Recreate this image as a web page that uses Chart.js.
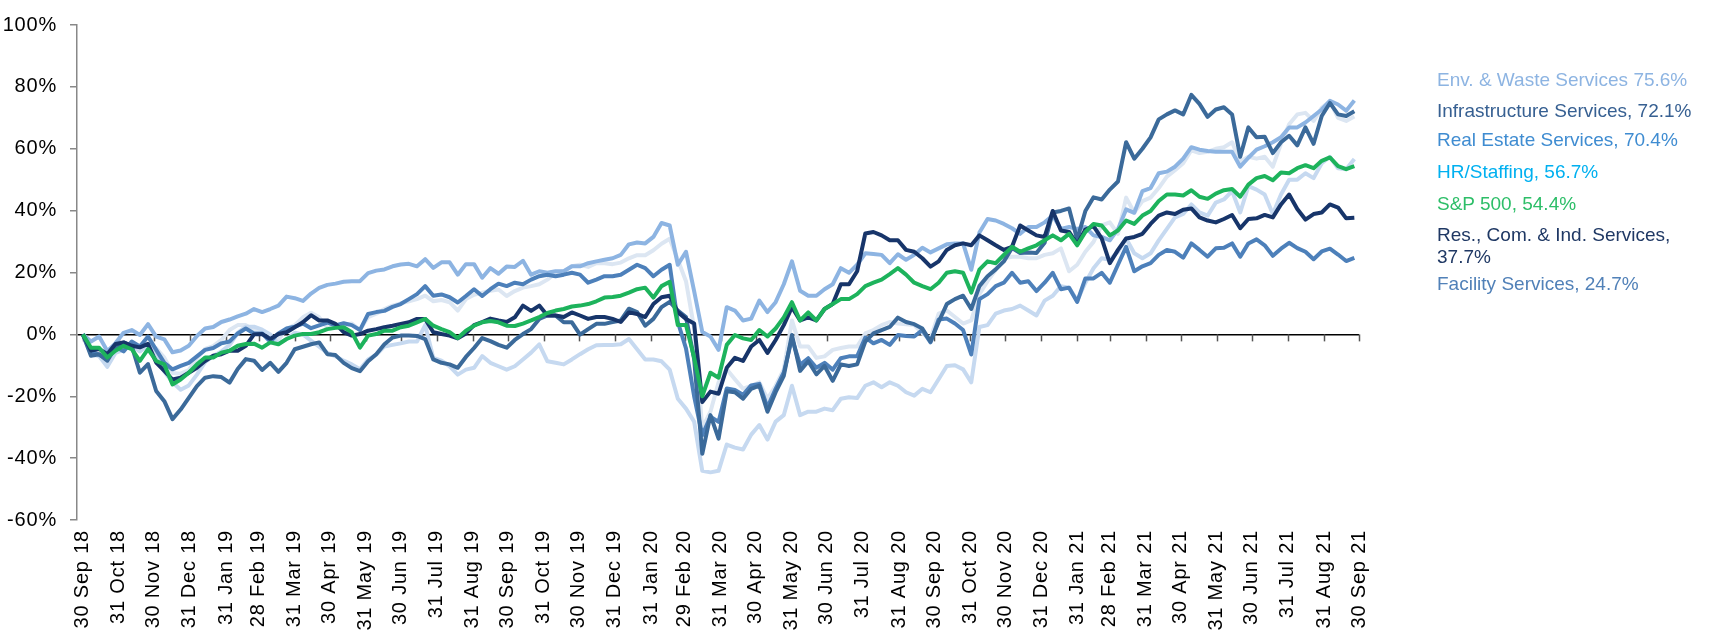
<!DOCTYPE html>
<html>
<head>
<meta charset="utf-8">
<script src="https://cdn.jsdelivr.net/npm/chart.js@4.4.1/dist/chart.umd.min.js"></script>
<style>
  body { margin: 0; background: #fff; font-family: "Liberation Sans", Arial, sans-serif; }
  #wrap { position: relative; width: 1727px; height: 634px; }
  canvas { display: block; }
  .lg { position: absolute; left: 1437px; font-size: 19px; line-height: 22px; white-space: nowrap; }
</style>
</head>
<body>
<div id="wrap">
  <canvas id="perfChart" width="1727" height="634"></canvas>
</div>
<script>
// month-end tick labels
const monthLabels = ['30 Sep 18','31 Oct 18','30 Nov 18','31 Dec 18','31 Jan 19','28 Feb 19','31 Mar 19','30 Apr 19','31 May 19','30 Jun 19','31 Jul 19','31 Aug 19','30 Sep 19','31 Oct 19','30 Nov 19','31 Dec 19','31 Jan 20','29 Feb 20','31 Mar 20','30 Apr 20','31 May 20','30 Jun 20','31 Jul 20','31 Aug 20','30 Sep 20','31 Oct 20','30 Nov 20','31 Dec 20','31 Jan 21','28 Feb 21','31 Mar 21','30 Apr 21','31 May 21','30 Jun 21','31 Jul 21','31 Aug 21','30 Sep 21'];

// weekly cumulative returns (%), first point 30 Sep 18
const envWaste = [0,-2.3,-0.7,-5.4,-2.9,0.5,1.4,-0.2,3.3,-0.7,
  -1.6,-5.8,-5.2,-3.7,-0.5,1.9,2.4,4.0,4.8,5.8,
  6.7,8.2,7.2,8.2,9.3,12.2,11.7,10.8,13.2,15.0,
  16.0,16.4,17.0,17.2,17.2,19.8,20.6,21.0,22.0,22.6,
  22.8,22.0,24.3,21.5,23.3,23.3,19.3,22.7,22.7,18.3,
  21.4,19.6,21.9,21.8,23.8,19.3,20.4,19.9,20.4,20.4,
  22.0,22.0,23.0,23.6,24.1,24.6,25.7,29.1,29.7,29.4,
  31.5,36.0,35.2,22.5,26.7,14.0,0.8,-0.7,-5.0,8.8,
  7.7,4.5,5.1,10.9,7.2,10.4,16.2,23.6,14.1,12.5,
  12.5,14.6,16.2,21.4,19.9,22.5,26.2,26.0,25.7,23.0,
  25.9,24.1,25.7,28.0,26.5,27.8,29.1,29.4,29.4,20.9,
  32.9,37.3,36.8,35.7,34.3,32.5,34.7,34.7,36.2,38.4,
  34.1,34.7,34.1,34.7,32.0,31.5,30.4,34.0,40.4,39.3,
  46.3,47.3,52.1,52.6,54.2,56.8,60.5,59.7,59.3,59.0,
  59.0,59.0,54.2,57.1,59.7,60.8,62.1,63.7,66.9,66.9,
  68.5,70.6,72.7,75.5,74.3,72.3,75.6];

const infrastructure = [0,-6.9,-6.4,-8.5,-4.2,-2.6,-3.7,-12.4,-9.6,-18.3,
  -21.6,-27.4,-24.3,-20.5,-16.7,-14.0,-13.5,-13.8,-15.6,-11.2,
  -8.0,-8.5,-11.5,-9.2,-12.1,-9.2,-4.8,-4.0,-3.2,-2.6,
  -6.4,-6.7,-9.2,-10.9,-11.9,-8.7,-6.4,-3.2,-1.0,-0.4,
  -0.4,-0.5,-1.5,-8.1,-9.2,-9.7,-10.8,-7.3,-4.4,-1.2,
  -2.2,-3.4,-4.3,-1.8,0.1,1.7,5.0,6.1,6.1,3.9,
  3.9,-0.1,1.7,3.4,3.4,4.0,4.5,8.3,7.2,2.8,
  5.0,8.8,10.5,7.7,5.6,-8.0,-38.6,-26.1,-33.7,-18.4,
  -18.7,-20.8,-17.6,-16.6,-25.0,-18.7,-13.4,-0.2,-11.8,-8.7,
  -12.9,-10.2,-15.0,-9.7,-10.2,-9.7,-2.3,0.3,1.4,2.4,
  5.4,4.0,3.3,1.9,-2.3,4.0,9.8,11.4,12.5,8.2,
  15.6,18.8,21.0,23.6,27.9,26.3,26.5,26.3,29.6,39.4,
  39.9,40.7,30.7,39.9,44.3,43.6,46.8,49.4,62.1,56.8,
  60.0,63.7,69.5,71.1,72.4,71.1,77.4,74.5,70.3,72.7,
  73.4,71.1,57.4,66.9,63.7,63.9,58.6,62.1,64.2,61.1,
  66.9,61.6,70.6,74.8,71.1,70.6,72.1];

const realEstate = [0,-4.5,-7.0,-9.5,-4.5,-5.0,-3.5,-5.5,-3.0,-4.5,
  -7.5,-12.5,-12.7,-11.5,-7.8,-4.7,-3.8,-1.8,1.4,3.0,
  3.0,1.4,0.5,-2.8,-1.8,1.9,3.0,5.5,7.0,5.5,
  2.0,2.4,3.0,3.5,1.4,5.6,6.7,8.2,9.3,10.0,
  10.7,11.4,12.5,10.7,11.1,10.4,7.7,11.4,12.8,13.5,
  14.1,14.5,12.4,14.0,15.1,15.6,16.2,17.7,19.9,20.4,
  22.0,22.5,21.8,23.0,23.0,22.7,23.2,24.6,25.6,25.6,
  27.2,29.3,30.9,24.1,17.2,2.0,-30.3,-25.0,-15.5,-11.3,
  -14.5,-17.6,-16.6,-15.5,-20.8,-16.6,-11.3,4.5,-3.9,-3.9,
  -7.6,-7.1,-5.0,-4.4,-3.9,-3.9,0.3,1.4,3.0,4.0,
  3.5,3.3,3.0,0.3,-1.3,6.7,7.7,5.6,3.5,4.5,
  13.0,17.2,20.9,24.6,25.1,25.1,24.6,24.6,25.7,26.2,
  27.8,20.4,22.5,26.7,29.9,35.2,36.2,32.5,44.2,39.4,
  43.1,44.2,47.3,51.0,53.1,55.3,59.5,58.6,59.0,60.0,
  60.5,62.1,55.8,57.4,56.8,57.4,54.2,61.6,67.9,71.1,
  71.6,69.0,73.2,75.3,70.0,69.0,70.4];

const hrStaffing = [0,-6.5,-7.0,-10.5,-6.0,-5.0,-3.5,-5.5,-3.5,-7.0,
  -12.0,-15.5,-17.9,-16.5,-13.0,-9.0,-7.0,-5.5,-3.5,0.5,
  2.5,2.5,1.5,0.0,-3.0,-1.5,0.5,0.0,-2.0,-4.0,
  -6.0,-7.1,-8.5,-9.7,-11.3,-8.1,-6.6,-3.9,-3.4,-2.9,
  -2.3,-2.3,3.0,-7.6,-8.5,-10.3,-13.0,-11.4,-10.8,-7.0,
  -9.2,-10.3,-11.4,-10.3,-8.1,-5.9,-3.2,-8.7,-9.2,-9.7,
  -8.1,-6.4,-4.8,-3.5,-3.4,-3.4,-3.2,-1.5,-4.8,-8.1,
  -8.1,-8.7,-11.4,-20.8,-24.0,-28.2,-44.1,-44.6,-44.1,-35.6,
  -36.6,-37.2,-32.4,-29.3,-34.0,-28.2,-26.1,-16.6,-26.1,-25.0,
  -25.0,-24.0,-24.5,-20.8,-20.3,-20.6,-16.6,-15.5,-17.1,-15.5,
  -16.6,-18.7,-19.8,-17.6,-18.7,-14.5,-10.2,-10.0,-11.3,-15.5,
  2.4,3.0,6.7,7.7,8.2,9.3,7.7,6.1,10.9,12.5,
  15.6,15.1,10.9,16.7,21.4,24.6,24.1,26.7,31.0,26.2,
  24.6,26.2,30.4,34.1,37.8,38.9,42.0,39.4,38.4,42.6,
  43.6,46.3,39.4,47.9,46.8,45.2,38.9,45.2,50.0,50.0,
  52.1,50.5,55.3,57.4,53.7,53.4,56.7];

const sp500 = [0,-4.3,-4.3,-7.5,-5.3,-3.7,-4.8,-8.6,-4.8,-8.6,
  -9.7,-16.2,-14.6,-12.4,-9.7,-7.5,-7.5,-5.9,-5.3,-3.7,
  -3.1,-3.0,-4.3,-2.6,-3.2,-1.5,-0.4,0.1,0.1,0.7,
  1.7,2.1,2.3,0.7,-4.3,-0.4,0.1,1.2,1.2,2.3,
  2.8,3.9,5.0,2.8,1.7,0.7,-1.2,1.2,2.8,3.9,
  4.3,3.9,2.8,2.7,3.5,4.5,5.6,6.9,7.7,8.2,
  9.0,9.3,9.8,10.7,11.9,12.1,12.5,13.5,14.6,15.1,
  11.9,15.6,17.0,3.0,3.0,-7.5,-20.0,-12.4,-14.0,-3.4,
  -0.2,-1.3,-1.8,1.4,-0.7,1.9,5.5,10.4,4.5,7.1,
  4.5,8.2,9.8,11.4,11.4,13.0,15.6,16.7,17.7,19.5,
  21.4,19.3,16.7,15.6,14.6,16.7,19.9,20.4,19.9,13.5,
  20.9,23.6,23.0,25.7,28.3,26.7,27.8,28.8,30.4,32.0,
  30.4,32.5,28.8,33.1,35.7,35.2,32.0,33.6,36.8,35.7,
  38.4,39.9,43.1,45.2,45.2,44.9,46.6,44.5,43.8,45.5,
  46.6,47.0,44.5,48.4,50.5,51.2,49.8,52.3,52.1,53.7,
  54.7,53.7,56.1,57.2,54.4,53.4,54.4];

const resComInd = [0,-5.2,-4.7,-6.4,-3.1,-2.6,-3.7,-4.2,-3.1,-9.1,
  -11.8,-14.6,-14.0,-12.4,-10.8,-8.6,-6.9,-6.4,-5.3,-5.3,
  -3.7,0.0,0.1,-1.5,0.1,0.7,2.3,3.9,6.2,4.5,
  4.5,3.4,0.7,-0.4,0.1,1.2,1.7,2.3,2.8,3.4,
  3.9,5.0,5.0,0.7,0.1,-0.4,-1.3,0.3,3.0,4.0,
  5.1,4.5,4.0,5.5,9.3,7.6,9.3,6.1,6.1,5.6,
  7.1,6.1,5.0,5.6,5.6,5.0,4.0,7.1,6.6,5.6,
  9.8,12.0,12.5,7.2,5.0,3.5,-21.9,-18.5,-19.2,-10.8,
  -7.6,-8.6,-3.9,-1.8,-6.0,-1.8,3.0,8.8,4.5,5.5,
  4.5,8.2,9.8,16.2,16.2,20.4,32.6,33.1,32.0,30.4,
  30.4,27.3,26.7,24.6,21.9,23.6,27.3,28.8,29.4,28.8,
  32.0,30.4,28.8,27.3,28.3,35.2,33.6,32.0,31.5,39.9,
  33.6,33.1,29.1,33.9,35.0,31.0,23.0,27.3,31.0,31.5,
  32.5,35.7,38.4,39.4,38.9,40.3,40.7,37.8,36.8,36.2,
  37.3,38.6,34.3,37.3,37.5,38.6,37.8,42.0,45.2,40.5,
  37.1,38.9,39.4,42.0,41.0,37.5,37.7];

const facility = [0,-5.5,-6.6,-8.1,-3.9,-5.5,-2.3,-3.9,-0.7,-5.0,
  -9.2,-11.3,-10.2,-9.2,-7.1,-5.0,-4.4,-2.9,-2.3,0.3,
  1.9,0.3,0.3,-2.3,0.3,1.9,2.5,3.5,2.0,2.9,
  3.8,2.9,3.6,3.0,1.4,6.6,7.2,7.6,8.9,9.8,
  11.4,13.0,15.6,12.5,12.9,12.0,10.3,12.4,14.6,12.4,
  14.6,16.4,15.6,16.7,16.2,17.7,18.8,19.3,18.8,19.3,
  19.9,19.3,16.7,17.7,18.8,18.8,19.3,20.9,22.5,21.4,
  18.8,20.9,22.5,4.0,-4.5,-20.0,-32.6,-26.6,-28.3,-17.5,
  -18.0,-19.5,-16.5,-16.0,-23.6,-17.6,-12.3,-1.3,-9.8,-7.7,
  -10.8,-9.2,-11.4,-7.7,-7.1,-7.1,-1.0,-2.9,-1.8,-3.4,
  -0.2,-0.5,-0.7,1.4,-2.6,4.8,5.1,3.5,1.4,-6.5,
  11.4,13.0,15.6,16.7,19.9,16.7,17.2,14.0,16.7,19.9,
  14.6,15.1,10.5,18.1,18.1,19.9,16.7,22.5,28.3,20.4,
  22.0,23.0,25.7,27.3,26.7,24.8,29.4,27.3,25.1,27.8,
  28.0,29.4,25.1,29.4,30.7,28.8,25.4,27.7,29.6,27.9,
  26.7,24.3,26.8,27.7,25.8,23.7,24.7];

const legendItems = [
  { text: 'Env. & Waste Services 75.6%', color: '#8DB4E2', top: 69 },
  { text: 'Infrastructure Services, 72.1%', color: '#376092', top: 100 },
  { text: 'Real Estate Services, 70.4%', color: '#3F8CD1', top: 129 },
  { text: 'HR/Staffing, 56.7%', color: '#00B0F0', top: 161 },
  { text: 'S&P 500, 54.4%', color: '#2DBE68', top: 193 },
  { text: 'Res., Com. & Ind. Services,\n37.7%', color: '#1F3864', top: 224 },
  { text: 'Facility Services, 24.7%', color: '#5181B8', top: 273 },
];

const MON = { Jan: 0, Feb: 1, Mar: 2, Apr: 3, May: 4, Jun: 5, Jul: 6, Aug: 7, Sep: 8, Oct: 9, Nov: 10, Dec: 11 };
const start = Date.UTC(2018, 8, 30);
const tickDays = monthLabels.map(l => {
  const [d, m, y] = l.split(' ');
  return (Date.UTC(2000 + +y, MON[m], +d) - start) / 864e5;
});
const weekDays = envWaste.map((_, i) => i * 7);
const pts = arr => arr.map((v, i) => ({ x: weekDays[i], y: v }));

function line(label, values, color, order) {
  return {
    label, data: pts(values), borderColor: color, backgroundColor: color,
    borderWidth: 4, pointRadius: 0, tension: 0, fill: false,
    borderJoinStyle: 'round', order
  };
}

const zeroTicks = {
  id: 'zeroTicks',
  beforeDatasetsDraw(chart) {
    const { ctx, scales: { x, y } } = chart;
    const y0 = y.getPixelForValue(0);
    ctx.save();
    ctx.strokeStyle = '#555';
    ctx.lineWidth = 1.5;
    tickDays.forEach(d => {
      const px = Math.round(x.getPixelForValue(d)) + 0.5;
      ctx.beginPath();
      ctx.moveTo(px, y0);
      ctx.lineTo(px, y0 + 7);
      ctx.stroke();
    });
    ctx.restore();
  }
};

const spacing = {
  id: 'spacing',
  beforeDraw(chart) { chart.ctx.letterSpacing = '0.8px'; }
};

new Chart(document.getElementById('perfChart'), {
  type: 'line',
  data: {
    datasets: [
      line('S&P 500', sp500, '#1DB35C', 0),
      line('Res., Com. & Ind. Services', resComInd, '#17356A', 1),
      line('Infrastructure Services', infrastructure, '#3B6A9A', 2),
      line('Facility Services', facility, '#4D80BA', 3),
      line('Env. & Waste Services', envWaste, '#8DB4E2', 4),
      line('HR/Staffing', hrStaffing, '#C6D9F0', 5),
      line('Real Estate Services', realEstate, '#DCE6F2', 6),
    ]
  },
  options: {
    responsive: false,
    animation: false,
    layout: { padding: { top: 15.5, right: 368, left: 0, bottom: 0 } },
    plugins: { legend: { display: false }, tooltip: { enabled: false } },
    scales: {
      x: {
        type: 'linear',
        min: -5,
        max: 1096,
        afterBuildTicks: s => { s.ticks = tickDays.map(v => ({ value: v })); },
        afterFit: s => { s.height = 114; },
        grid: { display: false, drawTicks: false },
        border: { display: false },
        ticks: {
          autoSkip: false,
          maxRotation: 90,
          minRotation: 90,
          padding: 10,
          color: '#000',
          font: { family: 'Liberation Sans', size: 20 },
          callback: (v, i) => monthLabels[i]
        }
      },
      y: {
        min: -60,
        max: 100,
        afterFit: s => { s.width = 77; },
        grid: {
          color: c => (c.tick && c.tick.value === 0 ? '#000' : 'rgba(0,0,0,0)'),
          lineWidth: 1.5,
          tickLength: 7,
          tickColor: '#888'
        },
        border: { display: true, color: '#888', width: 1.5 },
        ticks: {
          stepSize: 20,
          padding: 13,
          color: '#000',
          font: { family: 'Liberation Sans', size: 20 },
          callback: v => v + '%'
        }
      }
    }
  },
  plugins: [spacing, zeroTicks]
});

// right-hand legend as plain text
const wrap = document.getElementById('wrap');
legendItems.forEach(it => {
  const d = document.createElement('div');
  d.className = 'lg';
  d.style.top = it.top + 'px';
  d.style.color = it.color;
  it.text.split('\n').forEach((part, k) => {
    if (k) d.appendChild(document.createElement('br'));
    d.appendChild(document.createTextNode(part));
  });
  wrap.appendChild(d);
});
</script>
</body>
</html>
